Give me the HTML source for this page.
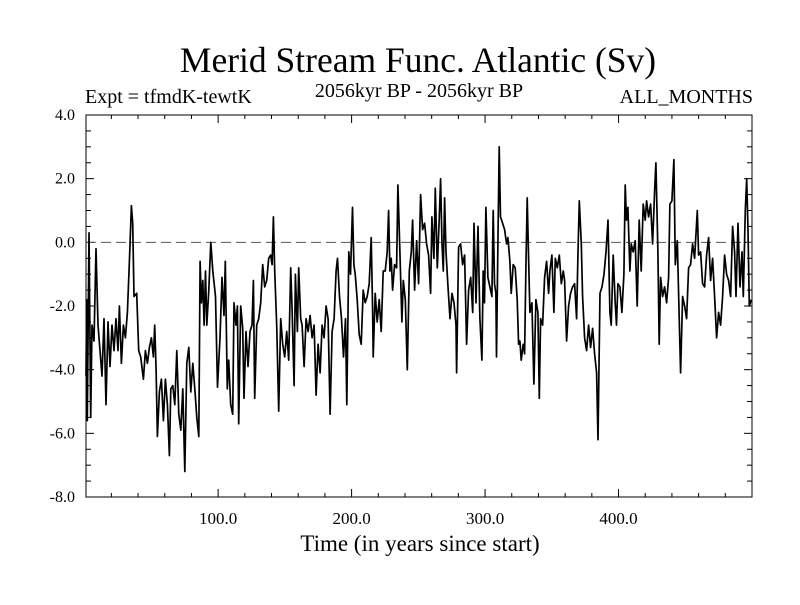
<!DOCTYPE html>
<html><head><meta charset="utf-8"><style>
html,body{margin:0;padding:0;background:#fff;}
svg text{font-family:"Liberation Serif",serif;fill:#000;}
</style></head><body>
<svg id="chart" width="800" height="600" xmlns="http://www.w3.org/2000/svg">
<text x="418" y="72" font-size="35.5" text-anchor="middle">Merid Stream Func. Atlantic (Sv)</text>
<text x="85" y="103" font-size="20">Expt = tfmdK-tewtK</text>
<text x="419" y="97" font-size="20" text-anchor="middle">2056kyr BP - 2056kyr BP</text>
<text x="753" y="103" font-size="20" text-anchor="end">ALL_MONTHS</text>
<text x="420" y="551" font-size="23" text-anchor="middle">Time (in years since start)</text>
<g id="axes"></g>
<g id="plot"></g>
</svg>
<script>
const years=[1,1.5,2,3.25,4.5,5.5,7,8.5,10,11.5,13,14.5,16,17.5,19,20.5,22,23.5,25,26,27.5,29,30.5,32,33.5,35,36,37,39,40.5,42,44,45.5,47,48.5,50,51.5,52.5,53.5,54.5,56,57.5,59,60.5,62,63.5,64.5,66,67.5,69,70.5,72,73.5,75,76.5,78,79.5,81,82.5,84,85.5,86.5,87.5,88.5,89.5,90.5,91.5,93,94.5,96,98,99.5,
101.4,102.9,104.4,105.4,106.9,107.9,109.4,110.9,111.9,113.4,114.4,115.4,116.9,118.4,119.4,120.9,122.4,123.9,125.4,126.4,127.4,128.9,130.4,131.9,133.4,134.9,136.4,137.9,139.4,140.4,141.4,142.4,143.9,145.4,146.9,148.4,149.9,151.4,152.9,154.4,155.4,156.9,157.9,159.4,160.4,161.9,162.9,164.4,165.9,167.4,168.9,170.4,171.9,173.4,174.9,176.4,177.9,179.4,180.9,182.4,183.9,185.4,186.9,188.4,189.4,190.9,192.4,193.9,195.4,196.4,197.9,
199.2,200.7,201.7,202.7,204.2,205.7,207.2,208.7,210.2,211.7,213.2,214.7,215.7,216.2,217.7,219.2,220.7,222.2,223.7,225.2,226.7,227.7,228.7,229.7,230.7,232.2,233.7,234.7,236.2,237.7,238.7,240.2,241.7,243.2,244.7,245.7,247.2,248.7,250.2,251.7,253.2,254.7,256.2,257.7,259.2,260.2,261.7,262.7,264.2,265.7,266.7,267.7,268.7,269.7,270.7,272.2,273.7,275.2,276.7,278.2,278.7,280.2,281.7,283.2,284.7,286.2,287.7,289.2,290.7,291.7,293.2,294.7,
296.1,297.6,298.6,299.6,300.6,302.1,303.6,305.1,306.1,307.1,308.1,308.6,309.6,310.6,311.6,313.1,314.6,316.1,317.1,318.6,319.6,321.1,322.6,324.1,325.1,326.1,327.1,328.6,329.6,330.6,331.6,332.6,333.6,335.1,336.6,338.1,339.6,340.6,341.6,343.1,344.6,346.1,347.6,348.6,350.1,351.6,352.6,354.1,355.6,357.1,358.6,359.6,361.1,362.6,364.1,365.6,367.1,368.6,369.6,370.6,372.1,373.1,374.6,376.1,377.6,379.1,380.6,382.1,383.6,384.6,386.1,387.6,389.1,390.6,392.1,
393.5,394.5,396,397.5,398.5,399.5,401,402.5,404,405,406,407,408.5,409.5,411,412.5,414,415.5,417,418.5,420,421,422.5,424,425.5,427,428,429.5,430.5,431.5,433,434.5,436,437.5,438.5,440,441.5,442.5,444,445.5,446.5,448,449.5,451,452.5,454,455.5,457,459,460,461.5,463,464.5,466,467.5,469,470.5,472,473.5,475,476.5,478,479.5,481,482.5,484,485.5,487,488,489.5,491,492.5,493.5,495,496,497,498,499.5];
const values=[-4.2,-1.8,-5.6,0.3,-5.5,-2.6,-3.1,-0.2,-2.6,-3.4,-4.2,-2.4,-5.1,-2.5,-3.9,-2.6,-3.4,-2.4,-3.4,-2.0,-3.8,-2.6,-3.0,-2.2,-0.6,1.15,0.6,-1.7,-1.6,-3.4,-3.6,-4.3,-3.4,-3.8,-3.3,-3.0,-3.6,-2.6,-4.0,-6.1,-4.7,-4.3,-5.6,-4.3,-5.1,-6.7,-4.6,-4.5,-5.1,-3.4,-5.4,-5.9,-4.6,-7.2,-3.8,-3.3,-4.7,-3.8,-4.6,-5.5,-6.1,-0.6,-1.9,-1.2,-2.6,-0.9,-2.6,-1.5,0.0,-0.9,-1.7,-4.55,
-3.0,-1.1,-2.3,-0.6,-4.6,-3.7,-5.1,-5.4,-1.9,-2.6,-2.0,-5.7,-2.0,-2.7,-4.9,-2.8,-3.9,-2.8,-2.6,-1.2,-4.9,-2.6,-2.4,-1.9,-0.7,-1.4,-1.2,-0.5,-0.4,-0.7,0.8,-0.9,-2.6,-5.3,-2.4,-3.2,-3.6,-2.8,-3.7,-0.8,-2.1,-4.5,-1.0,-2.8,-0.8,-2.4,-2.6,-3.9,-2.4,-2.8,-2.3,-3.0,-2.6,-4.8,-3.2,-4.1,-2.6,-3.0,-2.0,-2.4,-5.4,-2.8,-2.4,-0.9,-0.5,-1.7,-2.4,-3.6,-2.4,-5.1,-0.3,
-1.0,1.1,-0.7,-1.0,-1.8,-2.9,-3.2,-1.5,-1.9,-1.7,-1.3,0.15,-2.1,-3.6,-1.6,-2.5,-1.8,-2.8,-0.9,-0.9,-0.3,1.0,-0.9,-0.5,-1.5,-0.7,-0.8,1.8,-0.3,-2.5,-1.2,-1.8,-4.0,-0.9,-0.3,0.7,-1.5,0.05,-1.3,1.5,0.4,0.6,-0.05,-0.4,-1.6,0.8,-0.5,1.7,-0.8,0.8,2.0,-0.05,-0.9,1.4,-0.3,-1.4,-2.4,-1.6,-1.9,-2.6,-4.1,-0.15,-0.05,-0.7,-0.4,-3.2,-1.5,-1.1,-2.2,0.6,-1.9,0.5,
-2.4,-3.7,-0.9,-1.9,1.1,-1.1,-1.4,-1.7,1.0,-1.3,-1.6,-3.6,-0.05,3.0,0.8,0.6,0.4,-0.05,0.15,-0.6,-1.6,-0.7,-0.8,-1.8,-3.2,-3.1,-3.7,-3.2,-3.5,-0.8,1.4,-0.5,-2.2,-1.9,-4.45,-1.8,-2.2,-4.9,-2.4,-2.6,-1.1,-0.6,-1.6,-0.9,-0.4,-2.2,-0.5,-0.8,-0.4,-1.3,-0.9,-1.2,-3.1,-2.0,-1.6,-1.4,-1.3,-2.4,-0.3,1.3,-0.05,-1.7,-3.0,-3.4,-2.6,-3.3,-2.7,-3.5,-4.1,-6.2,-1.6,-1.4,-1.0,-0.3,0.7,
-2.2,-2.6,-0.4,-1.9,-2.6,-1.3,-1.4,-2.2,-1.0,1.8,0.7,1.1,-0.9,-0.05,-0.3,0.05,-2.0,0.7,-0.9,1.2,0.7,1.3,0.8,1.2,-0.05,1.6,2.5,-0.3,-3.2,-1.1,-1.7,-1.4,-1.9,-1.1,1.2,1.3,2.6,-0.7,0.05,-2.5,-4.1,-1.7,-2.0,-2.4,-0.8,-0.7,-0.05,-0.5,1.0,-0.4,-0.3,-1.3,-1.4,-0.4,0.15,-1.2,-0.5,-1.7,-3.0,-2.2,-2.6,-1.7,-0.4,-1.0,-1.2,-1.7,0.5,-0.3,-1.7,0.6,-1.4,-0.3,-1.7,1.0,2.0,0.4,-2.0,-1.8];
const yTickValues=[4,2,0,-2,-4,-6,-8];
const yTickLabels=["4.0","2.0","0.0","-2.0","-4.0","-6.0","-8.0"];
const xTickValues=[100,200,300,400];
const xTickLabels=["100.0","200.0","300.0","400.0"];

const L=86,R=752,T=115,B=497,XMIN=1,XMAX=500,YMIN=-8,YMAX=4;
const NS="http://www.w3.org/2000/svg";
function sx(v){return L+(v-XMIN)*(R-L)/(XMAX-XMIN);}
function sy(v){return B-(v-YMIN)*(B-T)/(YMAX-YMIN);}
function mk(tag,attrs,parent){const e=document.createElementNS(NS,tag);for(const k in attrs)e.setAttribute(k,attrs[k]);parent.appendChild(e);return e;}
const axes=document.getElementById('axes'),plot=document.getElementById('plot');

const frame=mk('rect',{x:L,y:T,width:R-L,height:B-T,fill:'none',stroke:'#000','stroke-width':1},axes);



for(let v=YMIN;v<=YMAX+1e-9;v+=0.5){
  const major=Math.abs(v/2-Math.round(v/2))<1e-9, len=major?8:5, y=sy(v);
  const t1=mk('line',{x1:L,y1:y,x2:L+len,y2:y,stroke:'#000'},axes);
  
  
  const t2=mk('line',{x1:R,y1:y,x2:R-len,y2:y,stroke:'#000'},axes);
  
  
}
yTickValues.forEach((v,i)=>{
  const t=mk('text',{x:75,y:sy(v)+5,'font-size':16,'text-anchor':'end'},axes);
  t.textContent=yTickLabels[i];
  
  
});
for(let v=20;v<XMAX;v+=20){
  const major=v%100===0,len=major?8:4,x=sx(v);
  const t1=mk('line',{x1:x,y1:B,x2:x,y2:B-len,stroke:'#000'},axes);
  
  
  const t2=mk('line',{x1:x,y1:T,x2:x,y2:T+len,stroke:'#000'},axes);
  
  
}
xTickValues.forEach((v,i)=>{
  const t=mk('text',{x:sx(v),y:524,'font-size':17,'text-anchor':'middle'},axes);
  t.textContent=xTickLabels[i];
  
  
});
const zl=mk('line',{x1:L,y1:sy(0),x2:R,y2:sy(0),stroke:'#555','stroke-width':1,'stroke-dasharray':'10,5'},plot);


let d='';
years.forEach((yr,i)=>{d+=(i?'L':'M')+sx(yr).toFixed(1)+','+sy(values[i]).toFixed(1);});
const line=mk('path',{d:d,fill:'none',stroke:'#000','stroke-width':1.7,'stroke-linejoin':'round'},plot);


</script>
</body></html>
